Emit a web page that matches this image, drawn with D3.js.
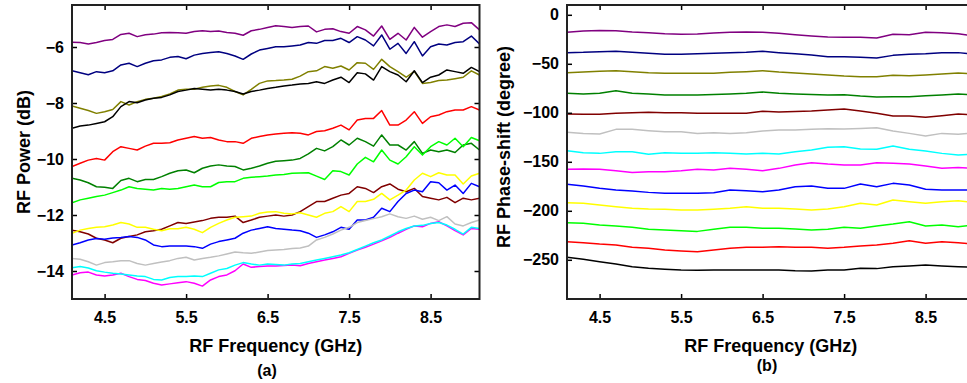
<!DOCTYPE html>
<html>
<head>
<meta charset="utf-8">
<script src="https://cdn.jsdelivr.net/npm/d3@7/dist/d3.min.js"></script>
<style>
  body { margin: 0; background: #fff; }
  svg { display: block; font-family: "Liberation Sans", Arial, sans-serif; font-weight: bold; }
  .line { fill: none; stroke-width: 1.5; stroke-linejoin: round; }
</style>
</head>
<body>
<div id="chart"></div>
<script>
// x values (GHz)
const freqPower = [4.1,4.2,4.3,4.4,4.5,4.6,4.7,4.8,4.9,5.0,5.1,5.2,5.3,5.4,5.5,5.6,5.7,5.8,5.9,6.0,
  6.1,6.2,6.3,6.4,6.5,6.6,6.7,6.8,6.9,7.0,7.1,7.2,7.3,7.4,7.5,7.6,7.7,7.8,7.9,8.0,
  8.1,8.2,8.3,8.4,8.5,8.6,8.7,8.8,8.9,9.0,9.1];
const freqPhase = [4.1,4.3,4.5,4.7,4.9,5.1,5.3,5.5,5.7,5.9,6.1,6.3,6.5,6.7,6.9,7.1,7.3,7.5,7.7,7.9,
  8.1,8.3,8.5,8.7,8.9,9.1];
const freqTicks = [4.5, 5.5, 6.5, 7.5, 8.5];
const powerTicks = [-14, -12, -10, -8, -6];
const phaseTicks = [-250, -200, -150, -100, -50, 0];

// (a) RF power, dB
const powerPurple = [-5.83,-5.84,-5.89,-5.84,-5.77,-5.73,-5.55,-5.51,-5.63,-5.56,-5.54,-5.49,-5.48,-5.49,-5.51,-5.45,-5.42,-5.45,-5.43,-5.48,
  -5.51,-5.58,-5.42,-5.37,-5.30,-5.24,-5.27,-5.30,-5.27,-5.25,-5.46,-5.37,-5.35,-5.45,-5.51,-5.27,-5.39,-5.61,-5.25,-5.73,
  -5.51,-5.75,-5.30,-5.65,-5.45,-5.27,-5.21,-5.27,-5.15,-5.13,-5.39];
const powerNavy = [-6.85,-6.92,-6.99,-6.88,-6.92,-6.85,-6.64,-6.58,-6.70,-6.58,-6.49,-6.46,-6.37,-6.34,-6.42,-6.29,-6.23,-6.20,-6.17,-6.23,
  -6.32,-6.44,-6.25,-6.11,-6.05,-5.99,-5.99,-5.96,-5.93,-5.84,-5.87,-5.77,-5.77,-5.69,-5.84,-5.63,-5.75,-5.96,-5.57,-6.08,
  -5.87,-6.23,-5.81,-6.32,-5.99,-5.89,-5.93,-5.84,-5.81,-5.61,-5.89];
const powerOlive = [-8.11,-8.19,-8.27,-8.37,-8.31,-8.23,-7.95,-8.07,-7.95,-7.87,-7.83,-7.77,-7.68,-7.54,-7.51,-7.51,-7.44,-7.39,-7.37,-7.44,
  -7.59,-7.71,-7.51,-7.30,-7.21,-7.20,-7.18,-7.15,-7.04,-6.88,-6.85,-6.70,-6.76,-6.68,-6.82,-6.56,-6.58,-6.80,-6.44,-6.70,
  -6.88,-7.08,-6.87,-7.30,-7.27,-7.20,-7.18,-7.13,-7.08,-6.85,-7.00];
const powerBlack = [-8.90,-8.82,-8.79,-8.73,-8.67,-8.49,-8.13,-7.95,-7.99,-7.89,-7.83,-7.80,-7.71,-7.59,-7.54,-7.48,-7.51,-7.54,-7.51,-7.54,
  -7.59,-7.68,-7.59,-7.54,-7.48,-7.44,-7.39,-7.36,-7.32,-7.30,-7.24,-7.30,-7.18,-7.08,-7.27,-6.92,-6.96,-7.18,-6.70,-6.88,
  -7.00,-7.24,-6.85,-7.27,-7.08,-7.00,-6.82,-6.88,-6.94,-6.73,-6.88];
const powerRed = [-10.27,-10.15,-10.04,-9.98,-10.04,-9.74,-9.56,-9.62,-9.68,-9.54,-9.44,-9.44,-9.42,-9.32,-9.26,-9.20,-9.26,-9.23,-9.32,-9.38,
  -9.38,-9.44,-9.26,-9.20,-9.14,-9.11,-9.08,-9.06,-9.08,-9.14,-9.02,-8.99,-8.90,-8.79,-8.96,-8.61,-8.55,-8.55,-8.27,-8.79,
  -8.79,-8.61,-8.31,-8.73,-8.49,-8.43,-8.31,-8.25,-8.25,-8.13,-8.25];
const powerGreen = [-10.69,-10.75,-10.85,-10.99,-11.01,-11.05,-10.77,-10.69,-10.81,-10.73,-10.73,-10.63,-10.51,-10.42,-10.39,-10.49,-10.33,-10.25,-10.21,-10.25,
  -10.27,-10.39,-10.33,-10.25,-10.15,-10.08,-10.06,-10.04,-9.98,-9.82,-9.62,-9.71,-9.56,-9.32,-9.50,-9.26,-9.38,-9.54,-9.14,-9.50,
  -9.50,-9.68,-9.38,-9.80,-9.68,-9.74,-9.68,-9.77,-9.50,-9.44,-9.68];
const powerLime = [-11.56,-11.46,-11.40,-11.34,-11.29,-11.20,-11.11,-10.99,-11.05,-11.08,-11.11,-11.05,-11.08,-11.05,-10.99,-10.93,-10.99,-10.99,-10.84,-10.81,
  -10.81,-10.69,-10.65,-10.63,-10.61,-10.57,-10.55,-10.51,-10.50,-10.49,-10.61,-10.73,-10.42,-10.45,-10.57,-10.18,-9.94,-10.10,-9.68,-10.04,
  -10.18,-9.92,-9.56,-9.86,-9.56,-9.38,-9.50,-9.26,-9.56,-9.23,-9.35];
const powerMaroon = [-12.54,-12.60,-12.68,-12.83,-12.89,-12.99,-12.83,-12.77,-12.71,-12.60,-12.56,-12.51,-12.39,-12.27,-12.30,-12.25,-12.20,-12.12,-12.08,-12.08,
  -12.04,-12.27,-12.18,-12.08,-12.04,-12.00,-12.04,-12.00,-11.88,-11.70,-11.52,-11.52,-11.40,-11.29,-11.23,-10.99,-11.05,-11.20,-10.99,-10.89,
  -11.08,-11.17,-11.05,-11.34,-11.40,-11.46,-11.37,-11.56,-11.40,-11.46,-11.40];
const powerYellow = [-12.65,-12.54,-12.48,-12.44,-12.42,-12.36,-12.27,-12.32,-12.44,-12.44,-12.51,-12.56,-12.49,-12.49,-12.44,-12.51,-12.63,-12.44,-12.30,-12.18,
  -12.08,-12.06,-12.04,-11.94,-11.89,-11.88,-11.94,-11.96,-11.92,-12.00,-12.08,-11.94,-11.88,-11.70,-11.88,-11.52,-11.52,-11.44,-11.23,-11.46,
  -11.29,-11.11,-10.75,-10.51,-10.63,-10.49,-10.57,-10.57,-10.89,-10.61,-10.51];
const powerBlue = [-13.07,-12.99,-12.89,-12.84,-12.87,-12.82,-12.80,-12.77,-12.80,-12.89,-13.07,-13.13,-13.11,-13.11,-13.11,-13.13,-13.19,-13.04,-12.95,-12.89,
  -12.83,-12.65,-12.54,-12.48,-12.42,-12.48,-12.51,-12.54,-12.56,-12.65,-12.80,-12.71,-12.60,-12.44,-12.51,-12.18,-12.18,-12.08,-11.76,-11.88,
  -11.52,-11.23,-11.11,-11.17,-10.81,-10.85,-11.11,-10.93,-11.23,-10.87,-10.99];
const powerSilver = [-13.55,-13.58,-13.67,-13.79,-13.70,-13.67,-13.63,-13.63,-13.73,-13.79,-13.73,-13.68,-13.63,-13.55,-13.51,-13.61,-13.55,-13.51,-13.46,-13.39,
  -13.32,-13.35,-13.37,-13.32,-13.27,-13.25,-13.23,-13.20,-13.18,-13.11,-12.89,-12.80,-12.68,-12.54,-12.44,-12.27,-12.20,-12.13,-12.06,-11.96,
  -12.06,-12.12,-12.04,-12.15,-12.08,-12.20,-12.06,-12.32,-12.39,-12.27,-12.18];
const powerMagenta = [-14.14,-14.06,-14.04,-14.14,-14.18,-14.14,-14.08,-14.20,-14.30,-14.34,-14.44,-14.50,-14.46,-14.42,-14.38,-14.44,-14.54,-14.32,-14.20,-14.14,
  -13.99,-13.75,-13.87,-13.84,-13.82,-13.82,-13.80,-13.79,-13.81,-13.73,-13.67,-13.61,-13.55,-13.49,-13.37,-13.25,-13.15,-13.04,-12.92,-12.80,
  -12.65,-12.51,-12.39,-12.42,-12.30,-12.24,-12.39,-12.56,-12.71,-12.48,-12.51];
const powerCyan = [-13.88,-13.84,-13.89,-13.99,-14.04,-14.08,-14.11,-14.14,-14.18,-14.20,-14.30,-14.32,-14.23,-14.20,-14.20,-14.18,-14.20,-14.08,-13.96,-13.91,
  -13.79,-13.70,-13.75,-13.79,-13.75,-13.77,-13.79,-13.75,-13.73,-13.67,-13.61,-13.55,-13.49,-13.43,-13.35,-13.23,-13.11,-12.99,-12.89,-12.75,
  -12.60,-12.48,-12.39,-12.37,-12.30,-12.27,-12.36,-12.51,-12.68,-12.44,-12.48];

// (b) RF phase-shift, degree
const phasePurple = [-17.9,-16.5,-15.9,-16.2,-17.6,-18.2,-19.3,-19.9,-19.6,-18.6,-17.9,-17.6,-17.9,-18.9,-20.3,-21.6,-22.7,-23.0,-23.0,-23.7,-19.9,-20.3,-17.9,-18.2,-19.3,-21.6];
const phaseNavy = [-38.6,-38.3,-37.6,-37.3,-38.3,-39.3,-40.3,-40.3,-39.7,-39.3,-38.6,-38.3,-37.3,-38.6,-39.7,-41.0,-42.7,-42.7,-43.4,-44.1,-41.4,-40.3,-39.7,-38.6,-38.6,-40.3];
const phaseOlive = [-59.1,-58.4,-57.7,-57.0,-58.0,-59.1,-59.7,-59.7,-59.7,-59.7,-58.7,-58.0,-57.0,-58.4,-59.4,-60.4,-61.4,-62.5,-63.1,-63.1,-61.8,-62.1,-61.4,-60.4,-59.4,-60.4];
const phaseGreen = [-80.1,-80.8,-80.1,-77.4,-80.1,-80.8,-81.8,-81.8,-81.8,-81.2,-80.8,-80.1,-78.8,-80.1,-80.8,-81.2,-81.8,-81.5,-82.9,-83.9,-83.5,-83.5,-82.5,-81.8,-80.8,-81.8];
const phaseMaroon = [-101.2,-101.6,-101.6,-100.5,-99.9,-99.5,-99.9,-99.9,-100.5,-100.5,-100.5,-100.5,-98.5,-99.2,-98.8,-98.2,-97.1,-96.1,-98.2,-100.5,-103.3,-103.3,-104.6,-102.9,-101.2,-102.2];
const phaseSilver = [-119.9,-121.0,-121.6,-116.9,-116.9,-118.2,-119.3,-119.3,-121.0,-120.3,-121.0,-120.3,-118.6,-117.6,-117.6,-116.9,-116.2,-116.5,-115.9,-115.2,-118.6,-121.0,-123.7,-121.0,-122.0,-120.3];
const phaseCyan = [-138.6,-140.7,-141.4,-139.7,-139.7,-142.4,-140.7,-141.4,-141.4,-140.7,-141.4,-142.0,-141.4,-142.0,-139.7,-138.0,-135.2,-134.6,-136.9,-137.3,-133.9,-137.3,-139.0,-141.4,-143.1,-142.0];
const phaseMagenta = [-157.7,-157.4,-157.7,-159.1,-160.8,-160.1,-160.1,-159.1,-157.7,-158.4,-156.7,-157.7,-159.1,-156.7,-153.3,-150.9,-152.3,-153.3,-153.3,-150.9,-151.6,-152.3,-154.3,-156.7,-155.7,-156.7];
const phaseBlue = [-173.0,-174.7,-177.1,-178.8,-179.8,-181.2,-182.2,-182.2,-182.2,-181.5,-178.8,-179.5,-180.5,-178.8,-175.4,-174.7,-177.1,-177.1,-172.7,-175.4,-172.0,-173.7,-178.1,-178.8,-178.8,-178.8];
const phaseYellow = [-191.7,-192.4,-194.1,-195.8,-197.5,-198.2,-198.5,-199.2,-199.2,-198.5,-197.5,-195.8,-197.5,-197.5,-198.2,-199.2,-198.2,-195.8,-192.4,-194.1,-189.0,-190.7,-192.4,-190.7,-189.7,-191.7];
const phaseLime = [-212.1,-212.8,-214.5,-215.5,-216.9,-218.9,-219.6,-220.3,-221.0,-218.9,-216.9,-216.9,-217.9,-217.9,-218.6,-219.6,-218.9,-216.9,-217.9,-215.5,-213.5,-211.1,-215.5,-214.5,-216.2,-214.5];
const phaseRed = [-231.5,-232.5,-233.9,-234.9,-237.3,-238.3,-240.0,-241.0,-241.7,-240.0,-238.3,-237.3,-237.3,-236.6,-237.3,-237.3,-238.3,-237.3,-235.9,-234.9,-233.2,-230.5,-233.2,-231.5,-232.5,-233.9];
const phaseBlack = [-247.5,-249.5,-251.9,-254.3,-257.0,-258.7,-259.7,-260.4,-260.7,-260.4,-260.4,-260.4,-260.4,-260.4,-261.1,-261.4,-260.4,-260.4,-258.7,-259.0,-257.0,-256.3,-255.3,-256.3,-257.0,-257.7];

const powerSeries = [
  {color: "#800080", values: powerPurple},
  {color: "#000080", values: powerNavy},
  {color: "#808000", values: powerOlive},
  {color: "#000000", values: powerBlack},
  {color: "#ff0000", values: powerRed},
  {color: "#008000", values: powerGreen},
  {color: "#00ff00", values: powerLime},
  {color: "#800000", values: powerMaroon},
  {color: "#ffff00", values: powerYellow},
  {color: "#0000ff", values: powerBlue},
  {color: "#c0c0c0", values: powerSilver},
  {color: "#ff00ff", values: powerMagenta},
  {color: "#00ffff", values: powerCyan}
];
const phaseSeries = [
  {color: "#800080", values: phasePurple},
  {color: "#000080", values: phaseNavy},
  {color: "#808000", values: phaseOlive},
  {color: "#008000", values: phaseGreen},
  {color: "#800000", values: phaseMaroon},
  {color: "#c0c0c0", values: phaseSilver},
  {color: "#00ffff", values: phaseCyan},
  {color: "#ff00ff", values: phaseMagenta},
  {color: "#0000ff", values: phaseBlue},
  {color: "#ffff00", values: phaseYellow},
  {color: "#00ff00", values: phaseLime},
  {color: "#ff0000", values: phaseRed},
  {color: "#000000", values: phaseBlack}
];

const svg = d3.select("#chart").append("svg")
  .attr("width", 967)
  .attr("height", 383);

function drawPanel(opts) {
  let x = d3.scaleLinear().domain([4.1, 9.1]).range([opts.left, opts.left + 407.5]);
  let y = d3.scaleLinear().domain(opts.yDomain).range([299, 5]);
  let top = 5, bottom = 299;

  svg.append("clipPath").attr("id", opts.id)
    .append("rect")
    .attr("x", x.range()[0]).attr("y", top)
    .attr("width", x.range()[1] - x.range()[0]).attr("height", bottom - top);

  let line = d3.line()
    .x((d, i) => x(opts.freq[i]))
    .y(d => y(d));

  svg.append("g")
    .attr("clip-path", "url(#" + opts.id + ")")
    .selectAll("path")
    .data(opts.series)
    .enter().append("path")
    .attr("class", "line")
    .attr("d", d => line(d.values))
    .style("stroke", d => d.color);

  // frame ticks: inward, mirrored on top/right
  let tick = 5;
  svg.append("g")
    .attr("transform", "translate(0," + bottom + ")")
    .call(d3.axisBottom(x).tickValues(freqTicks).tickSize(-tick).tickPadding(13).tickFormat(d3.format(".1f")))
    .call(g => g.select(".domain").remove());
  svg.append("g")
    .attr("transform", "translate(0," + top + ")")
    .call(d3.axisTop(x).tickValues(freqTicks).tickSize(-tick).tickFormat(""))
    .call(g => g.select(".domain").remove());
  svg.append("g")
    .attr("transform", "translate(" + x.range()[0] + ",0)")
    .call(d3.axisLeft(y).tickValues(opts.yTicks).tickSize(-tick).tickPadding(8))
    .call(g => g.select(".domain").remove());
  svg.append("g")
    .attr("transform", "translate(" + x.range()[1] + ",0)")
    .call(d3.axisRight(y).tickValues(opts.yTicks).tickSize(-tick).tickFormat(""))
    .call(g => g.select(".domain").remove());

  svg.selectAll(".tick text")
    .attr("font-size", 16)
    .attr("font-weight", "bold")
    .attr("font-family", "'Liberation Sans', Arial, sans-serif")
    .attr("fill", "#000");
  svg.selectAll(".tick line").attr("stroke", "#000").attr("stroke-width", 1.5);

  svg.append("rect")
    .attr("x", x.range()[0]).attr("y", top)
    .attr("width", x.range()[1] - x.range()[0]).attr("height", bottom - top)
    .attr("fill", "none").attr("stroke", "#222").attr("stroke-width", 2);

  svg.append("text")
    .attr("x", (x.range()[0] + x.range()[1]) / 2).attr("y", 346)
    .attr("text-anchor", "middle").attr("dominant-baseline", "central")
    .attr("font-size", 18)
    .text("RF Frequency (GHz)");

  svg.append("text")
    .attr("transform", "translate(" + opts.titleX + "," + opts.titleY + ") rotate(-90)")
    .attr("text-anchor", "middle").attr("dominant-baseline", "central")
    .attr("font-size", 18)
    .text(opts.yTitle);

  svg.append("text")
    .attr("x", opts.capX).attr("y", opts.capY)
    .attr("text-anchor", "middle").attr("dominant-baseline", "central")
    .attr("font-size", 16)
    .text(opts.caption);
}

drawPanel({
  id: "clipA", left: 72, freq: freqPower, series: powerSeries,
  yDomain: [-15, -4.5], yTicks: powerTicks,
  yTitle: "RF Power (dB)", titleX: 24, titleY: 152,
  caption: "(a)", capX: 267, capY: 370
});
drawPanel({
  id: "clipB", left: 567, freq: freqPhase, series: phaseSeries,
  yDomain: [-290, 10], yTicks: phaseTicks,
  yTitle: "RF Phase-shift (degree)", titleX: 504, titleY: 147,
  caption: "(b)", capX: 767, capY: 365
});
</script>
</body>
</html>
